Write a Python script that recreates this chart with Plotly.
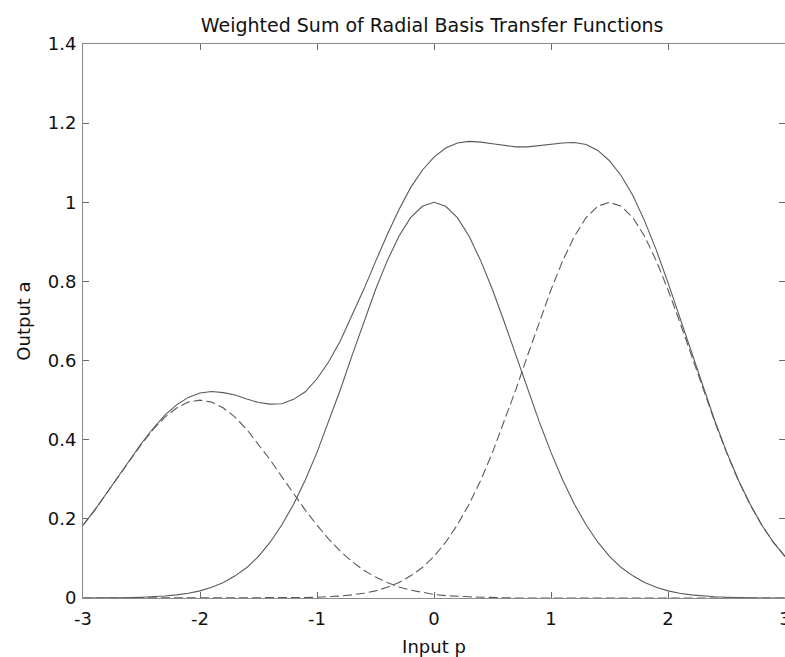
import plotly.graph_objects as go

p = [-3.0, -2.9, -2.8, -2.7, -2.6, -2.5, -2.4, -2.3, -2.2, -2.1,
     -2.0, -1.9, -1.8, -1.7, -1.6, -1.5, -1.4, -1.3, -1.2, -1.1,
     -1.0, -0.9, -0.8, -0.7, -0.6, -0.5, -0.4, -0.3, -0.2, -0.1,
     0.0, 0.1, 0.2, 0.3, 0.4, 0.5, 0.6, 0.7, 0.8, 0.9,
     1.0, 1.1, 1.2, 1.3, 1.4, 1.5, 1.6, 1.7, 1.8, 1.9,
     2.0, 2.1, 2.2, 2.3, 2.4, 2.5, 2.6, 2.7, 2.8, 2.9, 3.0]

a1 = [0.184, 0.222, 0.264, 0.306, 0.349, 0.389, 0.426, 0.457, 0.480, 0.495,
      0.500, 0.495, 0.480, 0.457, 0.426, 0.389, 0.349, 0.306, 0.264, 0.222,
      0.184, 0.149, 0.118, 0.092, 0.070, 0.053, 0.039, 0.028, 0.020, 0.014,
      0.009, 0.006, 0.004, 0.003, 0.002, 0.001, 0.001, 0.000, 0.000, 0.000,
      0.000, 0.000, 0.000, 0.000, 0.000, 0.000, 0.000, 0.000, 0.000, 0.000,
      0.000, 0.000, 0.000, 0.000, 0.000, 0.000, 0.000, 0.000, 0.000, 0.000, 0.000]

a2 = [0.000, 0.000, 0.000, 0.001, 0.001, 0.002, 0.003, 0.005, 0.008, 0.012,
      0.018, 0.027, 0.039, 0.056, 0.077, 0.105, 0.141, 0.185, 0.237, 0.298,
      0.368, 0.445, 0.527, 0.613, 0.698, 0.779, 0.852, 0.914, 0.961, 0.990,
      1.000, 0.990, 0.961, 0.914, 0.852, 0.779, 0.698, 0.613, 0.527, 0.445,
      0.368, 0.298, 0.237, 0.185, 0.141, 0.105, 0.077, 0.056, 0.039, 0.027,
      0.018, 0.012, 0.008, 0.005, 0.003, 0.002, 0.001, 0.001, 0.000, 0.000, 0.000]

a3 = [0.000, 0.000, 0.000, 0.000, 0.000, 0.000, 0.000, 0.000, 0.000, 0.000,
      0.000, 0.000, 0.000, 0.000, 0.000, 0.000, 0.000, 0.000, 0.001, 0.001,
      0.002, 0.003, 0.005, 0.008, 0.012, 0.018, 0.027, 0.039, 0.056, 0.077,
      0.105, 0.141, 0.185, 0.237, 0.298, 0.368, 0.445, 0.527, 0.613, 0.698,
      0.779, 0.852, 0.914, 0.961, 0.990, 1.000, 0.990, 0.961, 0.914, 0.852,
      0.779, 0.698, 0.613, 0.527, 0.445, 0.368, 0.298, 0.237, 0.185, 0.141, 0.105]

a_sum = [0.184, 0.222, 0.264, 0.307, 0.350, 0.391, 0.429, 0.462, 0.488, 0.507,
         0.518, 0.522, 0.519, 0.513, 0.503, 0.494, 0.490, 0.491, 0.502, 0.521,
         0.554, 0.597, 0.650, 0.713, 0.780, 0.850, 0.918, 0.981, 1.037, 1.081,
         1.114, 1.137, 1.150, 1.154, 1.152, 1.148, 1.144, 1.140, 1.140, 1.143,
         1.147, 1.150, 1.151, 1.146, 1.131, 1.105, 1.067, 1.017, 0.953, 0.879,
         0.797, 0.710, 0.621, 0.532, 0.448, 0.370, 0.299, 0.238, 0.185, 0.141, 0.105]

x_ticks = [-3, -2, -1, 0, 1, 2, 3]
y_ticks = [0, 0.2, 0.4, 0.6, 0.8, 1, 1.2, 1.4]
y_tick_text = ["0", "0.2", "0.4", "0.6", "0.8", "1", "1.2", "1.4"]

line_color = "#5a5a5a"
font_family = "DejaVu Sans, Verdana, sans-serif"
dash_style = "9px,4px"

fig = go.Figure()
fig.add_trace(go.Scatter(x=p, y=a1, mode="lines",
                         line=dict(color=line_color, width=1.1, dash=dash_style)))
fig.add_trace(go.Scatter(x=p, y=a2, mode="lines",
                         line=dict(color=line_color, width=1.1)))
fig.add_trace(go.Scatter(x=p, y=a3, mode="lines",
                         line=dict(color=line_color, width=1.1, dash=dash_style)))
fig.add_trace(go.Scatter(x=p, y=a_sum, mode="lines",
                         line=dict(color=line_color, width=1.1)))

axis_common = dict(
    showgrid=False, zeroline=False, showline=True, linecolor="#8a8a8a",
    linewidth=1, mirror="ticks", ticks="inside", ticklen=6, tickcolor="#6a6a6a",
    tickfont=dict(family=font_family, size=18, color="#111111"),
    ticklabeloverflow="allow", automargin=False,
)

fig.update_layout(
    width=785, height=657,
    margin=dict(l=83, r=0, t=44, b=59),
    paper_bgcolor="white", plot_bgcolor="white",
    showlegend=False,
    title=dict(text="Weighted Sum of Radial Basis Transfer Functions",
               x=0.5505, xanchor="center", y=0.962, yanchor="middle",
               font=dict(family=font_family, size=19, color="#111111")),
    xaxis=dict(range=[-3, 3], tickvals=x_ticks, ticktext=[str(t) for t in x_ticks],
               title=dict(text="Input p", standoff=12,
                          font=dict(family=font_family, size=18, color="#111111")),
               ticklabelstandoff=4, **axis_common),
    yaxis=dict(range=[0, 1.4], tickvals=y_ticks, ticktext=y_tick_text,
               title=dict(text="Output a", standoff=12,
                          font=dict(family=font_family, size=18, color="#111111")),
               ticklabelstandoff=2, **axis_common),
)

fig.write_html("out.html")
